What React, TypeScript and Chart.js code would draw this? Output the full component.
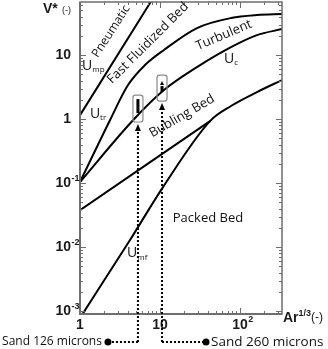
import React, { useEffect, useRef } from 'react';
import { Chart, registerables } from 'chart.js';
Chart.register(...registerables);

// Grace-type regime map: V* versus Ar^(1/3), log-log
const umpX = [1, 8];
const umpY = [1.15, 74];
const utrX = [1, 2.37, 3.98, 6.49, 11.2, 29.0, 77.2, 163, 335];
const utrY = [0.104, 0.96, 3.4, 6.98, 12.0, 26.4, 37.9, 42.2, 43.7];
const ucX = [1, 4.6, 11.2, 29.0, 77.2, 163, 335];
const ucY = [0.104, 0.96, 2.84, 6.49, 13.3, 20.5, 25.5];
const umbX = [1, 42.2];
const umbY = [0.0377, 0.93];
const umfX = [1, 4.22, 10.9, 42.2, 77.2, 163, 335];
const umfY = [0.00078, 0.0129, 0.0866, 0.93, 1.6, 2.64, 4.07];

const xTickValues = [1, 10, 100];
const xTickBase = ['1', '10', '10'];
const xTickSup = ['', '', '2'];
const yTickValues = [0.001, 0.01, 0.1, 1, 10];
const yTickBase = ['10', '10', '10', '1', '10'];
const yTickSup = ['-3', '-2', '-1', '', ''];

const regionNames = ['Pneumatic', 'Fast Fluidized Bed', 'Turbulent', 'Bubling Bed', 'Packed Bed'];
const regionPos = [[2.45, 23.5, 57], [7.08, 15.4, 45], [63, 20.5, 23], [18.8, 1.11, 30], [39.8, 0.0284, 0]];
const regionSize = [12, 13, 13, 13, 13];
const curveSubs = ['mp', 'tr', 'c', 'mf'];
const curvePos = [[1.06, 6.7], [1.33, 1.2], [63, 8.66], [3.87, 0.008]];

const sampleNames = ['Sand 126 microns', 'Sand 260 microns'];
const sampleX = [5.3, 10.6];
const sampleBoxY = [[0.9, 2.37], [1.91, 4.87]];

const AXIS = '#6e6e6e';
const LABEL_FONT = '"Open Sans", sans-serif';
const BOLD_FONT = '"Liberation Sans", Arial, sans-serif';

function roundRect(ctx: CanvasRenderingContext2D, x: number, y: number, w: number, h: number, r: number) {
  ctx.beginPath();
  ctx.moveTo(x + r, y);
  ctx.lineTo(x + w - r, y);
  ctx.quadraticCurveTo(x + w, y, x + w, y + r);
  ctx.lineTo(x + w, y + h - r);
  ctx.quadraticCurveTo(x + w, y + h, x + w - r, y + h);
  ctx.lineTo(x + r, y + h);
  ctx.quadraticCurveTo(x, y + h, x, y + h - r);
  ctx.lineTo(x, y + r);
  ctx.quadraticCurveTo(x, y, x + r, y);
  ctx.closePath();
}

function arrowUp(ctx: CanvasRenderingContext2D, x: number, tip: number, w: number, h: number) {
  ctx.beginPath();
  ctx.moveTo(x, tip);
  ctx.lineTo(x - w / 2, tip + h);
  ctx.lineTo(x + w / 2, tip + h);
  ctx.closePath();
  ctx.fill();
}

const decor = {
  id: 'decor',
  afterDatasetsDraw(chart: any) {
    const { ctx, chartArea: a, scales } = chart;
    const sx = scales.x, sy = scales.y;
    const X = (v: number) => sx.getPixelForValue(v);
    const Y = (v: number) => sy.getPixelForValue(v);
    ctx.save();

    // frame
    ctx.strokeStyle = AXIS;
    ctx.lineWidth = 1.5;
    ctx.strokeRect(a.left, a.top, a.right - a.left, a.bottom - a.top);
    ctx.lineWidth = 2;
    ctx.beginPath();
    ctx.moveTo(a.left, a.top);
    ctx.lineTo(a.left, a.bottom);
    ctx.lineTo(a.right, a.bottom);
    ctx.stroke();

    // ticks
    ctx.lineWidth = 1;
    ctx.beginPath();
    for (let d = -4; d <= 3; d++) {
      for (let m = 1; m <= 9; m++) {
        const v = m * Math.pow(10, d);
        const len = m === 1 ? 6 : 3;
        if (v >= sy.min && v <= sy.max) {
          const py = Math.round(Y(v)) + 0.5;
          ctx.moveTo(a.left, py); ctx.lineTo(a.left + len, py);
          ctx.moveTo(a.right, py); ctx.lineTo(a.right - len, py);
        }
        if (v >= sx.min && v <= sx.max) {
          const px = Math.round(X(v)) + 0.5;
          ctx.moveTo(px, a.bottom); ctx.lineTo(px, a.bottom - len);
          ctx.moveTo(px, a.top); ctx.lineTo(px, a.top + len);
        }
      }
    }
    ctx.stroke();

    // tick labels
    ctx.fillStyle = '#1a1a1a';
    ctx.textBaseline = 'middle';
    const baseF = 'bold 14px ' + BOLD_FONT;
    const supF = 'bold 9px ' + BOLD_FONT;
    yTickValues.forEach((v, i) => {
      const py = Y(v);
      ctx.font = baseF;
      const bw = ctx.measureText(yTickBase[i]).width;
      ctx.textAlign = 'left';
      ctx.fillText(yTickBase[i], a.left - 9 - bw, py);
      if (yTickSup[i]) { ctx.font = supF; ctx.fillText(yTickSup[i], a.left - 9 + 0.5, py - 5); }
    });
    xTickValues.forEach((v, i) => {
      const px = X(v);
      ctx.font = baseF;
      const bw = ctx.measureText(xTickBase[i]).width;
      ctx.textAlign = 'left';
      ctx.fillText(xTickBase[i], px - bw / 2, a.bottom + 11);
      if (xTickSup[i]) { ctx.font = supF; ctx.fillText(xTickSup[i], px + bw / 2 + 0.5, a.bottom + 6); }
    });

    // axis titles
    ctx.textAlign = 'left';
    ctx.font = 'bold 14px ' + BOLD_FONT;
    ctx.fillText('V*', a.left - 37, a.top + 7);
    ctx.font = '9px ' + BOLD_FONT;
    ctx.fillText('(-)', a.left - 18, a.top + 9);
    ctx.font = 'bold 14px ' + BOLD_FONT;
    const arW = ctx.measureText('Ar').width;
    ctx.fillText('Ar', a.right + 1, a.bottom + 4);
    ctx.font = 'bold 9px ' + BOLD_FONT;
    const supW = ctx.measureText('1/3').width;
    ctx.fillText('1/3', a.right + 1 + arW, a.bottom);
    ctx.font = '12px ' + BOLD_FONT;
    ctx.fillText('(-)', a.right + 1 + arW + supW, a.bottom + 4);

    // region names
    ctx.fillStyle = '#111';
    ctx.textAlign = 'center';
    regionNames.forEach((t, i) => {
      const [vx, vy, ang] = regionPos[i];
      ctx.font = regionSize[i] + 'px ' + LABEL_FONT;
      ctx.save();
      ctx.translate(X(vx), Y(vy));
      ctx.rotate(-ang * Math.PI / 180);
      ctx.fillText(t, 0, 0);
      ctx.restore();
    });

    // curve names U_xx
    ctx.textAlign = 'left';
    curveSubs.forEach((s, i) => {
      const px = X(curvePos[i][0]), py = Y(curvePos[i][1]);
      ctx.font = '14px ' + LABEL_FONT;
      const uw = ctx.measureText('U').width;
      ctx.fillText('U', px, py);
      ctx.font = '8px ' + LABEL_FONT;
      ctx.fillText(s, px + uw, py + 4);
    });

    // sample boxes
    sampleX.forEach((vx, i) => {
      const px = X(vx);
      const y1 = Y(sampleBoxY[i][1]), y2 = Y(sampleBoxY[i][0]);
      ctx.strokeStyle = '#8a8a8a';
      ctx.lineWidth = 1.2;
      ctx.setLineDash([]);
      roundRect(ctx, px - 5, y1, 10, y2 - y1, 2.5);
      ctx.stroke();
      ctx.fillStyle = '#000';
      if (i === 0) {
        ctx.fillRect(px - 1.5, y1 + 4, 3, 14);
      } else {
        ctx.fillRect(px - 1.5, y1 + 11, 3, 6);
        arrowUp(ctx, px, y1 + 6, 4, 4);
      }
      // dotted guide with arrow head
      const tip = y2 + 2;
      const baseY = a.bottom + 28;
      ctx.strokeStyle = '#000';
      ctx.lineWidth = 2;
      ctx.setLineDash([2, 2]);
      ctx.beginPath();
      ctx.moveTo(px, baseY);
      ctx.lineTo(px, tip + 6);
      const dotX = i === 0 ? px - 30 : px + 44;
      ctx.moveTo(px, baseY);
      ctx.lineTo(dotX, baseY);
      ctx.stroke();
      ctx.setLineDash([]);
      arrowUp(ctx, px, tip, 6, 7);
      ctx.beginPath();
      ctx.arc(dotX, baseY, 3.5, 0, Math.PI * 2);
      ctx.fill();
      ctx.fillStyle = '#111';
      ctx.textBaseline = 'middle';
      if (i === 0) {
        ctx.font = '12px ' + LABEL_FONT;
        ctx.textAlign = 'right';
        ctx.fillText(sampleNames[i], dotX - 6, baseY);
      } else {
        ctx.font = '13.5px ' + LABEL_FONT;
        ctx.textAlign = 'left';
        ctx.fillText(sampleNames[i], dotX + 5, baseY);
      }
    });
    ctx.restore();
  },
};

export default function App() {
  const ref = useRef<HTMLCanvasElement>(null);
  useEffect(() => {
    document.body.style.margin = '0';
    const c = ref.current!;
    const mk = (xs: number[], ys: number[]) => xs.map((x, i) => ({ x, y: ys[i] }));
    const ds = (xs: number[], ys: number[]) => ({
      data: mk(xs, ys),
      showLine: true,
      borderColor: '#000',
      borderWidth: 2,
      pointRadius: 0,
      cubicInterpolationMode: 'monotone' as const,
      fill: false,
    });
    const chart = new Chart(c, {
      type: 'scatter',
      data: { datasets: [ds(umpX, umpY), ds(utrX, utrY), ds(ucX, ucY), ds(umbX, umbY), ds(umfX, umfY)] },
      options: {
        responsive: false,
        animation: false,
        devicePixelRatio: 1,
        events: [],
        layout: { padding: { left: 80, right: 46, top: 2, bottom: 35 } },
        scales: {
          x: { type: 'logarithmic', min: 1, max: 335, display: false },
          y: { type: 'logarithmic', min: 0.0009, max: 67.5, display: false },
        },
        plugins: { legend: { display: false }, tooltip: { enabled: false } },
      },
      plugins: [decor],
    } as any);
    return () => chart.destroy();
  }, []);
  return (
    <div style={{ position: 'absolute', left: 0, top: 0, width: 328, height: 349, background: '#fff' }}>
      <canvas ref={ref} width={328} height={349} style={{ display: 'block' }} />
    </div>
  );
}
